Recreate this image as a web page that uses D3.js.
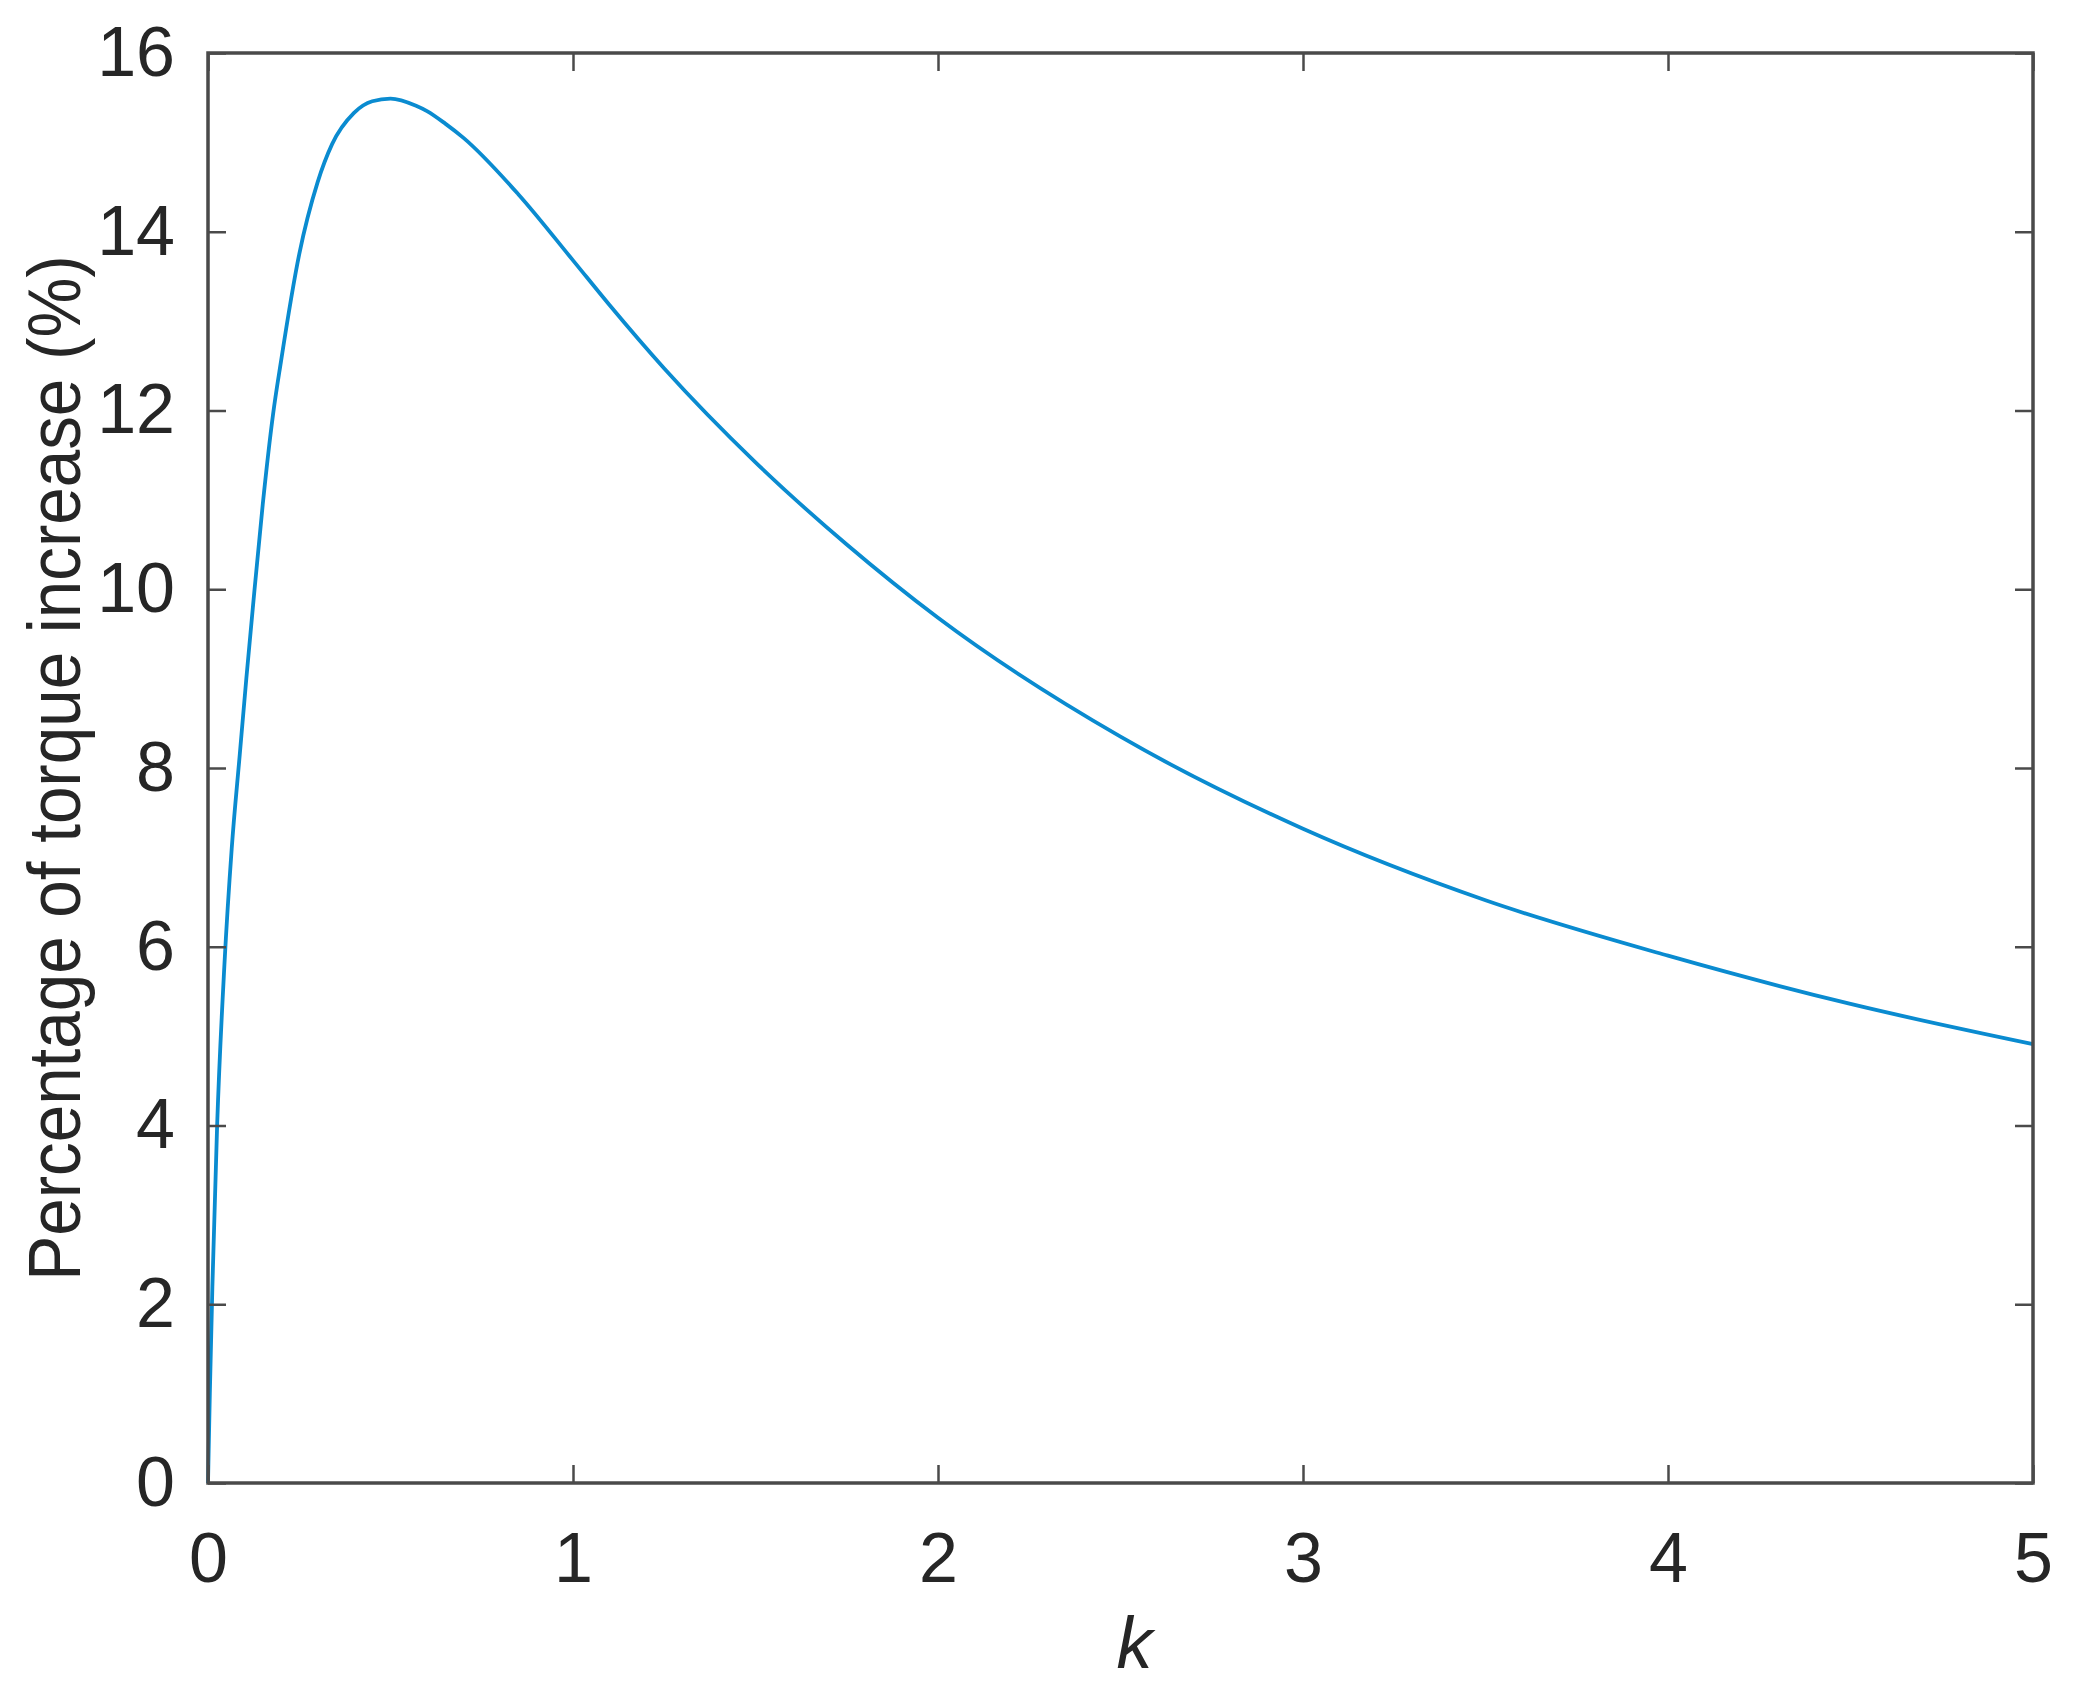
<!DOCTYPE html>
<html>
<head>
<meta charset="utf-8">
<script src="https://cdn.jsdelivr.net/npm/d3@7"></script>
<style>
  body { margin: 0; background: #fff; }
  text { font-family: "Liberation Sans", Arial, Helvetica, sans-serif; fill: #262626; }
</style>
</head>
<body>
<div id="chart-container"></div>
<script>
// values
const kValues = [0, 0.005, 0.012, 0.025, 0.045, 0.065, 0.087, 0.105, 0.123, 0.15, 0.178, 0.2, 0.25, 0.3, 0.34, 0.4, 0.45, 0.5, 0.57, 0.6, 0.65, 0.7, 0.85, 1.0, 1.1, 1.25, 1.5, 1.75, 2.0, 2.5, 3.0, 3.5, 4.0, 4.5, 5.0];
const torqueIncrease = [0, 1.0, 2.2, 4.0, 5.8, 7.1, 8.15, 9.0, 9.8, 10.95, 11.95, 12.55, 13.75, 14.55, 14.98, 15.33, 15.46, 15.49, 15.41, 15.35, 15.21, 15.05, 14.42, 13.68, 13.18, 12.47, 11.42, 10.5, 9.68, 8.35, 7.32, 6.52, 5.9, 5.36, 4.91];
const xTicks = [0, 1, 2, 3, 4, 5];
const yTicks = [0, 2, 4, 6, 8, 10, 12, 14, 16];

// Set dimensions and margins
const W = 2079, H = 1691;
const margin = { top: 53, right: 46, bottom: 208, left: 208 };
const width = W - margin.left - margin.right;
const height = H - margin.top - margin.bottom;

const x = d3.scaleLinear().domain([0, 5]).range([0, width]);
const y = d3.scaleLinear().domain([0, 16]).range([height, 0]);

const svg = d3.select("#chart-container")
  .append("svg")
    .attr("width", W)
    .attr("height", H)
  .append("g")
    .attr("transform", `translate(${margin.left},${margin.top})`);

const data = kValues.map((k, i) => ({ k: k, v: torqueIncrease[i] }));

// curve
svg.append("path")
  .datum(data)
  .attr("fill", "none")
  .attr("stroke", "#0a8bd0")
  .attr("stroke-width", 3.8)
  .attr("stroke-linejoin", "round")
  .attr("d", d3.line()
    .x(d => x(d.k))
    .y(d => y(d.v))
    .curve(d3.curveMonotoneX));

const axisColor = "#4a4a4a";
const tickLen = 18;

// Bottom axis with labels
svg.append("g")
  .attr("transform", `translate(0,${height})`)
  .call(d3.axisBottom(x).tickValues(xTicks).tickSize(-tickLen).tickPadding(49).tickFormat(d3.format("d")))
  .call(g => g.select(".domain").remove())
  .call(g => g.selectAll(".tick line").attr("stroke", axisColor).attr("stroke-width", 2.5))
  .call(g => g.selectAll(".tick text").style("font-size", "70px").attr("fill", "#262626"));

// Top ticks
svg.append("g")
  .call(d3.axisTop(x).tickValues(xTicks).tickSize(-tickLen).tickFormat(""))
  .call(g => g.select(".domain").remove())
  .call(g => g.selectAll(".tick line").attr("stroke", axisColor).attr("stroke-width", 2.5));

// Left axis with labels
svg.append("g")
  .call(d3.axisLeft(y).tickValues(yTicks).tickSize(-tickLen).tickPadding(33).tickFormat(d3.format("d")))
  .call(g => g.select(".domain").remove())
  .call(g => g.selectAll(".tick line").attr("stroke", axisColor).attr("stroke-width", 2.5))
  .call(g => g.selectAll(".tick text").style("font-size", "70px").attr("fill", "#262626"));

// Right ticks
svg.append("g")
  .attr("transform", `translate(${width},0)`)
  .call(d3.axisRight(y).tickValues(yTicks).tickSize(-tickLen).tickFormat(""))
  .call(g => g.select(".domain").remove())
  .call(g => g.selectAll(".tick line").attr("stroke", axisColor).attr("stroke-width", 2.5));

// Box
svg.append("rect")
  .attr("x", 0)
  .attr("y", 0)
  .attr("width", width)
  .attr("height", height)
  .attr("fill", "none")
  .attr("stroke", axisColor)
  .attr("stroke-width", 3.5);

// x-axis label
svg.append("text")
  .attr("x", width / 2 + 14)
  .attr("y", height + 185)
  .style("text-anchor", "middle")
  .style("font-size", "72px")
  .style("font-style", "italic")
  .text("k");

// y-axis label (slightly condensed like the original font)
svg.append("text")
  .attr("transform", `translate(${-margin.left + 80},${height / 2}) rotate(-90) scale(0.91,1)`)
  .style("text-anchor", "middle")
  .style("font-size", "74px")
  .text("Percentage of torque increase (%)");
</script>
</body>
</html>
